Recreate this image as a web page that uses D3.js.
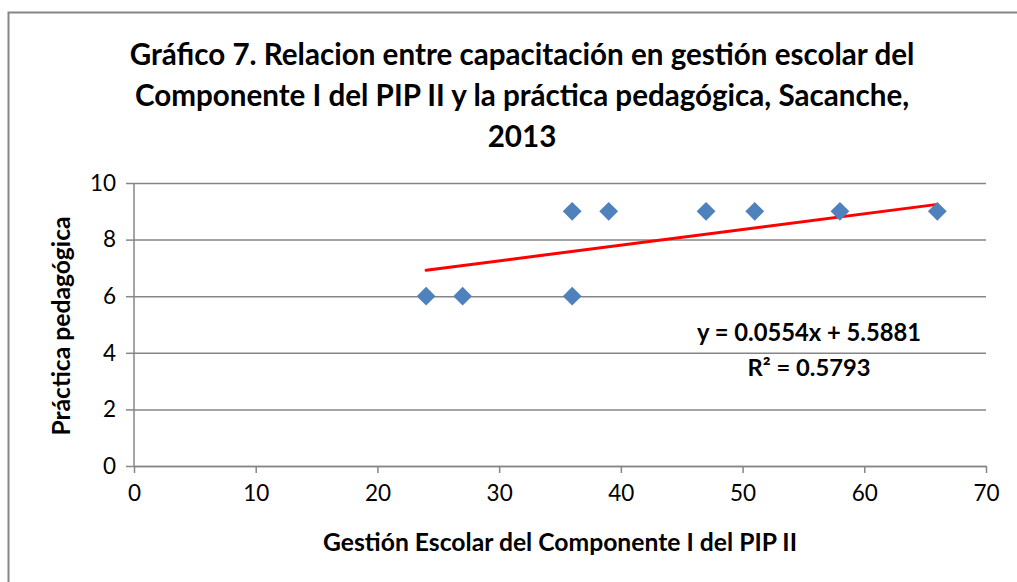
<!DOCTYPE html>
<html lang="es">
<head>
<meta charset="UTF-8">
<title>Gráfico 7</title>
<script src="https://cdnjs.cloudflare.com/ajax/libs/d3/7.8.5/d3.min.js"></script>
<style>
    /* lienzo */
    body { margin: 0; background: #fff; }
    svg text { font-family: Lato, "Open Sans", sans-serif; fill: #000; }
</style>
</head>
<body>
<svg id="chart" width="1017" height="582"></svg>
<script>
// datos
const gestion = [24, 27, 36, 36, 39, 47, 51, 58, 66];
const practica = [6, 6, 6, 9, 9, 9, 9, 9, 9];
const xTicks = [0, 10, 20, 30, 40, 50, 60, 70];
const yTicks = [0, 2, 4, 6, 8, 10];
const titleLines = [
    "Gráfico 7. Relacion entre capacitación en gestión escolar del",
    "Componente I del PIP II y la práctica pedagógica, Sacanche,",
    "2013"
];
const trend = { slope: 0.0554, intercept: 5.5881, r2: 0.5793 };

const svg = d3.select("#chart");
const gray = "#868686";

// ajusta el tamaño de letra para que el texto ocupe el ancho deseado
function fitText(sel, width) {
    const w = sel.node().getComputedTextLength();
    const fs = parseFloat(sel.style("font-size"));
    sel.style("font-size", (fs * width / w).toFixed(2) + "px");
    return fs * width / w;
}

// borde exterior (solo se ve arriba y a la izquierda)
svg.append("path")
    .attr("d", "M8.5,582 V12.5 H1017")
    .attr("fill", "none")
    .attr("stroke", gray)
    .attr("stroke-width", 2);

const x = d3.scaleLinear().domain([0, 70]).range([134, 986]);
const y = d3.scaleLinear().domain([0, 10]).range([466, 183]);

// titulo
const title = svg.append("g").selectAll("text")
    .data(titleLines)
    .enter().append("text")
    .attr("x", 522)
    .attr("y", (d, i) => 65 + i * 41)
    .attr("text-anchor", "middle")
    .style("font-size", "25px")
    .style("font-weight", "bold")
    .text(d => d);
const titleSize = fitText(d3.select(title.nodes()[0]), 785);
title.style("font-size", titleSize + "px");

// lineas de cuadricula + eje y
const yAxis = svg.append("g")
    .attr("transform", `translate(${x(0)},0)`)
    .call(d3.axisLeft(y).tickValues(yTicks).tickSize(8).tickPadding(10));
yAxis.selectAll(".tick line").clone()
    .attr("x1", 0).attr("x2", x(70) - x(0));
yAxis.select(".domain").remove();
svg.append("line")
    .attr("x1", x(0)).attr("x2", x(0))
    .attr("y1", y(0)).attr("y2", y(10))
    .attr("stroke", gray).attr("stroke-width", 1.5);

const xAxis = svg.append("g")
    .attr("transform", `translate(0,${y(0)})`)
    .call(d3.axisBottom(x).tickValues(xTicks).tickSize(7).tickPadding(12).tickSizeOuter(0));

svg.selectAll(".tick line, .domain").attr("stroke", gray).attr("stroke-width", 1.5);
svg.selectAll(".tick text").style("font-size", "22.5px").attr("fill", "#000");

// recta de tendencia
const xs = d3.extent(gestion);
svg.append("line")
    .attr("x1", x(xs[0])).attr("y1", y(trend.slope * xs[0] + trend.intercept))
    .attr("x2", x(xs[1])).attr("y2", y(trend.slope * xs[1] + trend.intercept))
    .attr("stroke", "#ff0000")
    .attr("stroke-width", 3)
    .attr("stroke-linecap", "round");

// puntos (rombos)
const diamond = d3.symbol().type(d3.symbolDiamond2).size(225);
svg.append("g").selectAll("path")
    .data(gestion.map((g, i) => [g, practica[i]]))
    .enter().append("path")
    .attr("d", diamond)
    .attr("transform", d => `translate(${x(d[0])},${y(d[1])})`)
    .attr("fill", "#4f81bd");

// ecuacion
const eq = svg.append("text")
    .attr("x", 809).attr("y", 341)
    .attr("text-anchor", "middle")
    .style("font-size", "20px").style("font-weight", "bold")
    .text(`y = ${trend.slope}x + ${trend.intercept}`);
const eqSize = fitText(eq, 224);
svg.append("text")
    .attr("x", 809).attr("y", 376)
    .attr("text-anchor", "middle")
    .style("font-size", eqSize + "px").style("font-weight", "bold")
    .text(`R² = ${trend.r2}`);

// titulos de ejes
const xTitle = svg.append("text")
    .attr("x", 560).attr("y", 551)
    .attr("text-anchor", "middle")
    .style("font-size", "20px").style("font-weight", "bold")
    .text("Gestión Escolar del Componente I del PIP II");
const axisSize = fitText(xTitle, 474);
svg.append("text")
    .attr("transform", "translate(70,326) rotate(-90)")
    .attr("text-anchor", "middle")
    .style("font-size", axisSize + "px").style("font-weight", "bold")
    .text("Práctica pedagógica");
</script>
</body>
</html>
